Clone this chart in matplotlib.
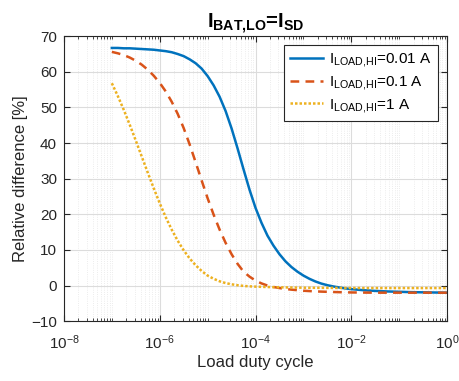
import numpy as np
import matplotlib
matplotlib.use("Agg")
import matplotlib.pyplot as plt
from matplotlib.ticker import LogLocator, NullFormatter

plt.rcParams['font.family'] = ['Liberation Sans', 'DejaVu Sans']
plt.rcParams['mathtext.fontset'] = 'custom'
plt.rcParams['mathtext.rm'] = 'Liberation Sans'
plt.rcParams['mathtext.it'] = 'Liberation Sans:italic'
plt.rcParams['mathtext.bf'] = 'Liberation Sans:bold'

# log10 of load duty cycle, read every 1/8 decade
log_duty = [-7.0, -6.875, -6.75, -6.625, -6.5, -6.375, -6.25, -6.125,
            -6.0, -5.875, -5.75, -5.625, -5.5, -5.375, -5.25, -5.125,
            -5.0, -4.875, -4.75, -4.625, -4.5, -4.375, -4.25, -4.125,
            -4.0, -3.875, -3.75, -3.625, -3.5, -3.375, -3.25, -3.125,
            -3.0, -2.875, -2.75, -2.625, -2.5, -2.375, -2.25, -2.125,
            -2.0, -1.75, -1.5, -1.25, -1.0, -0.75, -0.5, -0.25, 0.0]

# relative difference [%], I_LOAD,HI = 0.01 A
diff_001 = [66.7, 66.7, 66.6, 66.6, 66.5, 66.4, 66.3, 66.2,
            66.0, 65.8, 65.5, 65.0, 64.4, 63.5, 62.4, 60.9,
            58.8, 56.2, 53.0, 49.0, 44.1, 38.5, 32.6, 26.9,
            21.8, 17.6, 14.0, 11.2, 8.8, 6.8, 5.2, 3.9,
            2.8, 1.9, 1.15, 0.55, 0.1, -0.25, -0.55, -0.8,
            -1.0, -1.3, -1.5, -1.65, -1.75, -1.85, -1.9, -1.95, -2.0]
# I_LOAD,HI = 0.1 A
diff_01 = [65.6, 65.2, 64.7, 64.0, 63.1, 62.0, 60.6, 58.9,
           56.9, 54.5, 51.6, 48.2, 44.2, 39.6, 34.6, 29.5,
           24.5, 19.9, 15.7, 12.0, 8.8, 6.1, 3.9, 2.5,
           1.4, 0.6, 0.0, -0.4, -0.7, -0.95, -1.15, -1.3,
           -1.45, -1.55, -1.63, -1.7, -1.76, -1.81, -1.86, -1.9,
           -1.93, -1.97, -2.0, -2.0, -2.0, -2.0, -2.0, -2.0, -2.0]
# I_LOAD,HI = 1 A
diff_1 = [56.8, 53.2, 49.3, 45.1, 40.7, 36.2, 31.7, 27.3,
          23.1, 19.2, 15.7, 12.6, 9.9, 7.6, 5.7, 4.1,
          2.8, 1.9, 1.2, 0.7, 0.35, 0.1, -0.1, -0.22,
          -0.3, -0.36, -0.41, -0.45, -0.49, -0.52, -0.55, -0.58,
          -0.6, -0.62, -0.63, -0.64, -0.65, -0.66, -0.67, -0.68,
          -0.68, -0.7, -0.7, -0.7, -0.7, -0.7, -0.7, -0.7, -0.7]

duty = 10.0 ** np.array(log_duty)

fig = plt.figure(figsize=(4.6, 3.81), dpi=100)
ax = fig.add_axes([0.139, 0.157, 0.833, 0.748])

ax.plot(duty, diff_001, color='#0072BD', lw=1.8,
        label=r'$\mathrm{I_{LOAD{,}HI}}$=0.01 A')
ax.plot(duty, diff_01, color='#D95319', lw=1.8, ls=(0, (3.5, 2.5)),
        label=r'$\mathrm{I_{LOAD{,}HI}}$=0.1 A')
ax.plot(duty, diff_1, color='#EDB120', lw=1.8, ls=(0, (1, 0.8)),
        label=r'$\mathrm{I_{LOAD{,}HI}}$=1 A')

ax.set_xscale('log')
ax.set_xlim(1e-8, 1)
ax.set_ylim(-10, 70)
ax.set_yticks(range(-10, 71, 10))
ax.set_xticks([1e-8, 1e-6, 1e-4, 1e-2, 1])
ax.xaxis.set_minor_locator(LogLocator(base=10, subs=np.arange(1, 10), numticks=20))
ax.xaxis.set_minor_formatter(NullFormatter())

ax.grid(True, which='major', color='#dcdcdc', lw=0.8)
ax.grid(True, which='minor', axis='x', color='#e6e6e6', lw=0.6, ls=':')
ax.set_axisbelow(True)

ax.tick_params(which='both', direction='in', top=True, right=True,
               labelsize=11, colors='#262626')
ax.tick_params(which='major', length=4)
ax.tick_params(which='minor', length=2)
ax.tick_params(axis='x', which='major', pad=9)
ax.tick_params(axis='y', which='major', pad=5)
for s in ax.spines.values():
    s.set_color('#262626')
    s.set_linewidth(0.8)

ax.set_xlabel('Load duty cycle', fontsize=12, color='#262626', labelpad=2)
ax.set_ylabel('Relative difference [%]', fontsize=12, color='#262626', labelpad=2)
ax.set_title(r'$\mathbf{I_{BAT{,}LO}}$=$\mathbf{I_{SD}}$', fontsize=14.5,
             fontweight='bold', pad=5)

leg = ax.legend(loc='upper right', fontsize=11, fancybox=False, framealpha=1,
                edgecolor='#262626', handlelength=2.2, borderaxespad=0.6,
                labelspacing=0.3, handletextpad=0.4)
leg.get_frame().set_linewidth(0.8)

fig.savefig('out.png', dpi=100)
